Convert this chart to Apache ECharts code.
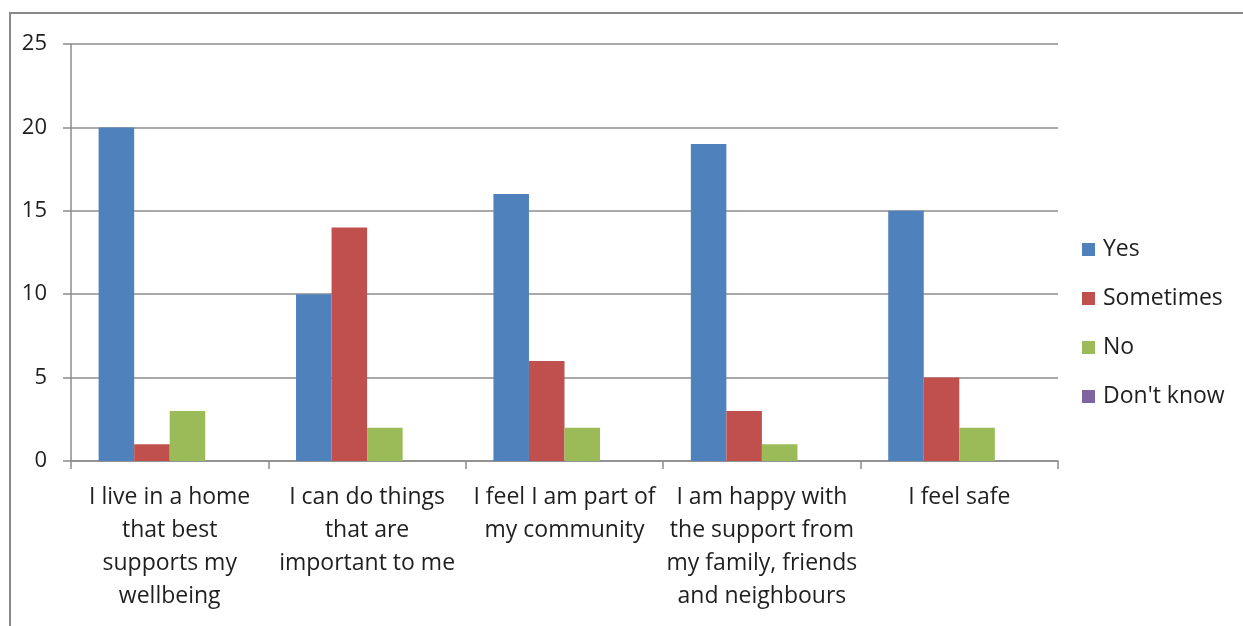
<!DOCTYPE html>
<html>
<head>
<meta charset="utf-8">
<script src="https://cdn.jsdelivr.net/npm/echarts@6/dist/echarts.min.js"></script>
<style>
  html, body { margin: 0; padding: 0; background: #fff; }
  #chart { width: 1243px; height: 626px; }
</style>
</head>
<body>
<div id="chart"></div>
<script>
// Survey statements (line breaks as shown under the axis)
const categories = [
  'I live in a home\nthat best\nsupports my\nwellbeing',
  'I can do things\nthat are\nimportant to me',
  'I feel I am part of\nmy community',
  'I am happy with\nthe support from\nmy family, friends\nand neighbours',
  'I feel safe'
];
const seriesNames = ['Yes', 'Sometimes', 'No', "Don't know"];
const yesValues = [20, 10, 16, 19, 15];
const sometimesValues = [1, 14, 6, 3, 5];
const noValues = [3, 2, 2, 1, 2];
const dontKnowValues = [0, 0, 0, 0, 0];
const colors = ['#4F81BD', '#C0504D', '#9BBB59', '#8064A2'];

const font = '"Open Sans", "Liberation Sans", sans-serif';
const gridColor = '#8c8c8c';
const textColor = '#1f1f1f';

const valueSets = [yesValues, sometimesValues, noValues, dontKnowValues];

const chart = echarts.init(document.getElementById('chart'), null, { renderer: 'canvas' });
chart.setOption({
  animation: false,
  color: colors,
  graphic: [{
    type: 'rect',
    shape: { x: 10, y: 13, width: 1300, height: 700 },
    style: { fill: 'none', stroke: '#8a8a8a', lineWidth: 2 },
    silent: true
  }],
  grid: { left: 71, top: 44, right: 185, bottom: 165, containLabel: false },
  legend: {
    orient: 'vertical',
    left: 1082,
    top: 238,
    padding: 0,
    itemWidth: 13,
    itemHeight: 13,
    itemGap: 26,
    icon: 'rect',
    textStyle: { fontFamily: font, fontSize: 23, color: textColor, padding: [0, 0, 0, 3] },
    data: seriesNames
  },
  xAxis: {
    type: 'category',
    data: categories,
    axisLine: { lineStyle: { color: gridColor, width: 1.5 } },
    axisTick: { show: true, length: 8, alignWithLabel: false, lineStyle: { color: gridColor, width: 1.5 } },
    axisLabel: {
      fontFamily: font, fontSize: 23, color: textColor,
      lineHeight: 33, margin: 20, interval: 0, align: 'center'
    }
  },
  yAxis: {
    type: 'value',
    min: 0, max: 25, interval: 5,
    axisLine: { show: true, lineStyle: { color: gridColor, width: 1.5 } },
    axisTick: { show: true, length: 8, lineStyle: { color: gridColor, width: 1.5 } },
    splitLine: { show: true, lineStyle: { color: gridColor, width: 1.5 } },
    axisLabel: { fontFamily: font, fontSize: 22, color: textColor, margin: 24 }
  },
  series: seriesNames.map((name, i) => ({
    name,
    type: 'bar',
    data: valueSets[i],
    barGap: '0%',
    barCategoryGap: '28%',
    itemStyle: { color: colors[i] }
  }))
});
</script>
</body>
</html>
